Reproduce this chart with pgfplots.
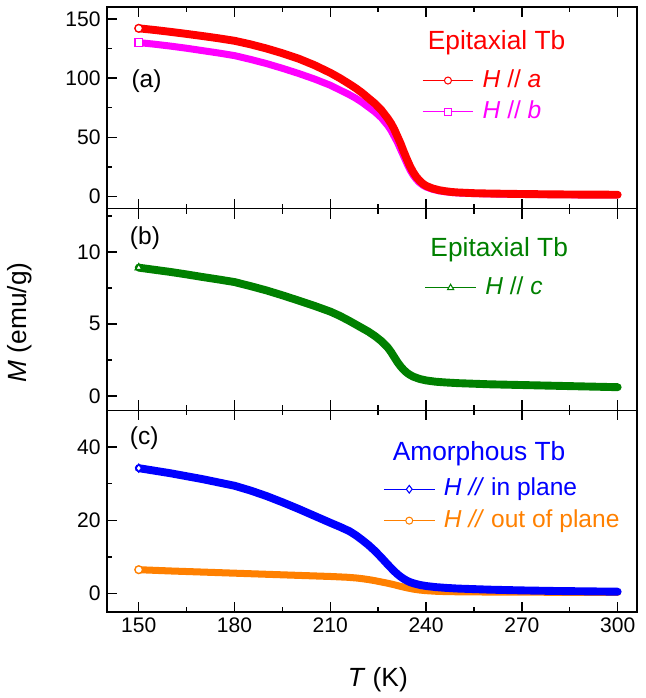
\documentclass[border=0pt]{standalone}
\usepackage{fontspec}
\setmainfont{Liberation Sans}
\usepackage{pgfplots}
\pgfplotsset{compat=1.18}

\definecolor{cred}{RGB}{255,0,0}
\definecolor{cmag}{RGB}{255,0,255}
\definecolor{cgreen}{RGB}{0,128,0}
\definecolor{cblue}{RGB}{0,0,255}
\definecolor{corange}{RGB}{255,128,0}

\pgfplotsset{
  panel/.style={
    width=10.62cm, height=4.04cm, scale only axis,
    xmin=140, xmax=306,
    xtick={150,180,...,300}, minor xtick={165,195,225,255,285},
    tick align=inside, xtick pos=both, ytick pos=left,
    major tick length=0.2cm, minor tick length=0.1cm,
    axis line style={line width=0.8pt},
    every tick/.style={line width=0.8pt, black},
    tick label style={font=\fontsize{12}{14}\selectfont},
    /pgf/number format/assume math mode=true,
    legend cell align=left,
    legend style={draw=none, fill=none, inner sep=0pt, anchor=north west,
      font=\fontsize{14}{16}\selectfont, row sep=0.12cm,
      nodes={inner sep=1pt, text height=10pt, text depth=2.5pt}},
    legend image code/.code={\draw[mark repeat=2,mark phase=2] plot coordinates {(0cm,0cm)(0.51cm,0cm)(1.02cm,0cm)};},
  },
  band/.style={line width=4.5pt, line cap=round, line join=round, forget plot},
  first/.style={only marks, mark size=2.2pt, line width=0.8pt, mark options={fill=white}, forget plot},
}
\newcommand{\ttl}{\fontsize{15}{17}\selectfont}
\newcommand{\pl}{\fontsize{14}{16}\selectfont}
\newcommand{\gap}{\hspace{0.14cm}}

\begin{document}
\begin{tikzpicture}
% (a) epitaxial, in-plane
\begin{axis}[panel, name=a, ymin=-10, ymax=160,
  ytick={0,50,100,150}, minor ytick={25,75,125}, xticklabels={},
  legend style={at={(rel axis cs:0.594,0.70)}}]
\addplot[cmag, band, line width=4pt] coordinates {
 (150,130)(155,128.6)(160,127)(165,125.2)(170,123.2)(175,121.2)(180,119)(185,115.8)
 (190,112.3)(195,108.3)(200,104)(205,99.3)(210,94)(213,90)(216,86)(218,83)
 (220,79.5)(222,75.5)(224,71.5)(226,66.5)(228,60)(229,56)(230,51)(231,46)
 (232,40)(233,34)(234,28)(235,22.5)(236,18)(237,14.5)(238,11.8)(239,9.7)
 (240,8.2)(242,6.3)(244,5)(246,4.2)(248,3.6)(250,3.2)(255,2.7)(260,2.4)
 (270,2.0)(280,1.8)(290,1.6)(300,1.5)};
\addplot[cred, band] coordinates {
 (150,142)(155,140.6)(160,139)(165,137.3)(170,135.5)(175,133.6)(180,131.5)(185,128.5)
 (190,125)(195,121)(200,116.5)(205,111)(210,104.5)(213,100)(216,95)(218,91.5)
 (220,87.5)(222,83)(224,78.5)(226,73)(228,66)(229,62)(230,57)(231,51)
 (232,45)(233,38)(234,31.5)(235,25.5)(236,20.5)(237,16.5)(238,13.5)(239,11)
 (240,9.2)(242,7)(244,5.6)(246,4.7)(248,4)(250,3.6)(255,3)(260,2.7)
 (270,2.3)(280,2)(290,1.8)(300,1.7)};
\addplot[cmag, first, mark=square*] coordinates {(150,130)};
\addplot[cred, first, mark=*] coordinates {(150,142)};
\addlegendimage{cred, line width=0.6pt, mark=*, mark size=2pt, mark options={fill=white}}
\addlegendentry{\gap\textcolor{cred}{\textit{H} // \textit{a}}}
\addlegendimage{cmag, line width=0.6pt, mark=square*, mark size=2pt, mark options={fill=white}}
\addlegendentry{\gap\textcolor{cmag}{\textit{H} // \textit{b}}}
\node[anchor=base west, text=cred, font=\ttl] at (rel axis cs:0.594,0.787) {Epitaxial Tb};
\node[anchor=base west, font=\pl] at (rel axis cs:0.035,0.602) {(a)};
\end{axis}

% (b) epitaxial, out of plane
\begin{axis}[panel, name=b, at={(a.south west)}, anchor=north west,
  ymin=-1, ymax=13, ytick={0,5,10}, minor ytick={2.5,7.5,12.5}, xticklabels={},
  legend style={at={(rel axis cs:0.599,0.672)}}]
\addplot[cgreen, band] coordinates {
 (150,8.9)(155,8.75)(160,8.6)(165,8.43)(170,8.25)(175,8.08)(180,7.9)(185,7.62)
 (190,7.32)(195,6.98)(200,6.62)(205,6.25)(210,5.85)(213,5.55)(216,5.2)(218,4.95)
 (220,4.7)(222,4.45)(224,4.15)(226,3.8)(228,3.35)(229,3.05)(230,2.7)(231,2.35)
 (232,2.05)(233,1.8)(234,1.6)(235,1.45)(236,1.33)(238,1.17)(240,1.07)(243,0.98)
 (246,0.93)(250,0.88)(260,0.8)(270,0.75)(280,0.7)(290,0.65)(300,0.6)};
\addplot[cgreen, first, mark=triangle*] coordinates {(150,8.9)};
\addlegendimage{cgreen, line width=0.6pt, mark=triangle*, mark size=2pt, mark options={fill=white}}
\addlegendentry{\gap\textcolor{cgreen}{\textit{H} // \textit{c}}}
\node[anchor=base west, text=cgreen, font=\ttl] at (rel axis cs:0.599,0.763) {Epitaxial Tb};
\node[anchor=base west, font=\pl] at (rel axis cs:0.032,0.821) {(b)};
\end{axis}

% (c) amorphous
\begin{axis}[panel, name=c, at={(b.south west)}, anchor=north west,
  ymin=-5, ymax=50, ytick={0,20,40}, minor ytick={10,30,50},
  legend style={at={(rel axis cs:0.521,0.673)}}]
\addplot[corange, band, line width=4pt] coordinates {
 (150,6.5)(160,6.15)(170,5.85)(180,5.55)(190,5.25)(200,4.95)(210,4.65)(215,4.45)
 (218,4.25)(220,4.05)(222,3.8)(224,3.5)(226,3.15)(228,2.8)(230,2.4)(232,1.95)
 (234,1.55)(236,1.2)(238,0.95)(240,0.78)(243,0.62)(246,0.53)(250,0.47)(260,0.4)
 (270,0.37)(280,0.34)(300,0.3)};
\addplot[cblue, band] coordinates {
 (150,34.2)(155,33.5)(160,32.8)(165,32.0)(170,31.2)(175,30.3)(180,29.4)(185,28.1)
 (190,26.6)(195,24.9)(200,23.1)(205,21.2)(210,19.3)(213,18.2)(216,17.0)(218,15.9)
 (220,14.6)(222,13.2)(224,11.6)(226,9.8)(228,7.9)(229,7.0)(230,6.1)(231,5.3)
 (232,4.6)(233,4.0)(234,3.5)(235,3.1)(236,2.8)(238,2.35)(240,2.05)(243,1.75)
 (246,1.55)(250,1.35)(260,1.05)(270,0.85)(280,0.7)(290,0.6)(300,0.5)};
\addplot[corange, first, mark=*] coordinates {(150,6.5)};
\addplot[cblue, first, mark=diamond*] coordinates {(150,34.2)};
\addlegendimage{cblue, line width=0.6pt, mark=diamond*, mark size=2.2pt, mark options={fill=white}}
\addlegendentry{\gap\textcolor{cblue}{\textit{H //} in plane}}
\addlegendimage{corange, line width=0.6pt, mark=*, mark size=2pt, mark options={fill=white}}
\addlegendentry{\gap\textcolor{corange}{\textit{H //} out of plane}}
\node[anchor=base west, text=cblue, font=\ttl] at (rel axis cs:0.528,0.752) {Amorphous Tb};
\node[anchor=base west, font=\pl] at (rel axis cs:0.032,0.832) {(c)};
\end{axis}

\node[anchor=base, font=\fontsize{15}{17}\selectfont] at ([xshift=0.12cm,yshift=-1.5cm]c.south) {\textit{T} (K)};
\node[rotate=90, anchor=base, font=\fontsize{15}{17}\selectfont] at ([xshift=-1.6cm,yshift=-0.26cm]b.west) {\textit{M} (emu/g)};
\path ([xshift=-2.14cm,yshift=0.14cm]a.north west) rectangle ([xshift=0.18cm,yshift=-1.72cm]c.south east);
\end{tikzpicture}
\end{document}
